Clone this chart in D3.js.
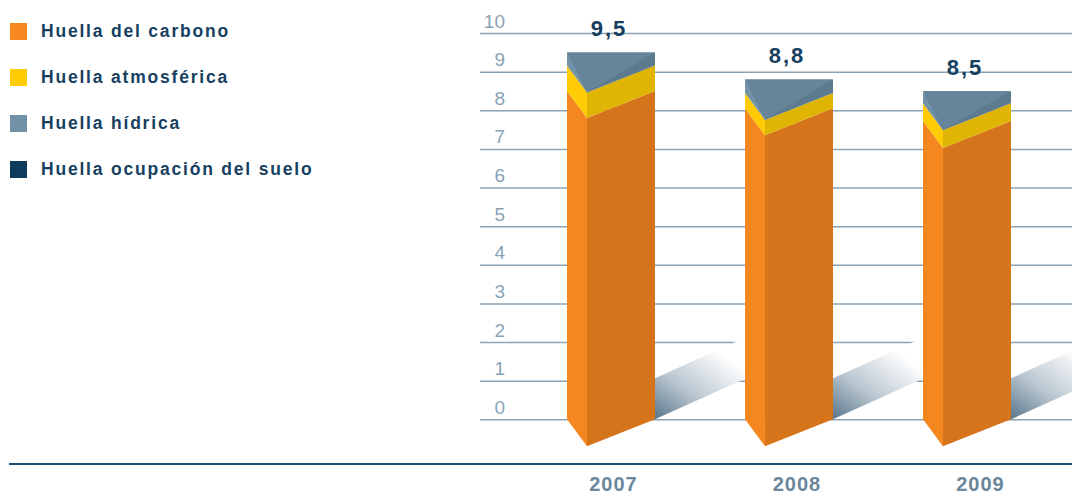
<!doctype html>
<html>
<head>
<meta charset="utf-8">
<script src="https://d3js.org/d3.v7.min.js"></script>
<style>
  body { margin: 0; background: #fff; }
  svg { display: block; font-family: "Liberation Sans", Arial, sans-serif; }
</style>
</head>
<body>
<svg width="1072" height="495"></svg>
<script>
// data
var years = ["2007", "2008", "2009"];
var carbono = [8.5, 8.05, 7.72];
var atmosferica = [0.66, 0.4, 0.46];
var hidrica = [0.34, 0.35, 0.32];
var suelo = [0, 0, 0];
var seriesNames = ["Huella del carbono", "Huella atmosférica", "Huella hídrica", "Huella ocupación del suelo"];
var yTicks = [0, 1, 2, 3, 4, 5, 6, 7, 8, 9, 10];

// colours: legend, side face, front face, top face
var legendColors = ["#f7881f", "#ffcc00", "#7191a7", "#0e3a5c"];
var sideColors = ["#f4871f", "#ffcb05", "#7292a8", "#17456a"];
var frontColors = ["#d6741c", "#dfb402", "#5d7b8f", "#0e3a5c"];
var topColors = ["#e27d1e", "#ecc000", "#66849a", "#123f62"];

var keys = ["carbono", "atmosferica", "hidrica", "suelo"];
var table = years.map(function (yr, i) {
  return { year: yr, carbono: carbono[i], atmosferica: atmosferica[i], hidrica: hidrica[i], suelo: suelo[i] };
});
var stacked = d3.stack().keys(keys)(table);

var svg = d3.select("svg");

var y = d3.scaleLinear().domain([0, 10]).range([419.3, 33]);
var x = d3.scaleBand().domain(years).range([567, 1011]).paddingInner(0.5056).paddingOuter(0);
var xLabel = d3.scalePoint().domain(years).range([613, 980]);
var bw = x.bandwidth();
var side = bw * 0.227;
var drop = 27;   // vertical skew of the front corner
var slope = 0.45;

var fmt = d3.formatLocale({ decimal: ",", thousands: ".", grouping: [3], currency: ["", "€"] }).format(".1f");

// grid + y labels
var gy = svg.append("g")
  .attr("transform", "translate(1072,0)")
  .call(d3.axisLeft(y).tickValues(yTicks).tickSize(592).tickFormat(d3.format("d")));
gy.select(".domain").remove();
gy.selectAll(".tick line").attr("stroke", "#8aa2b3").attr("stroke-width", 1.5);
gy.selectAll(".tick text")
  .attr("x", -567).attr("dy", -6)
  .attr("text-anchor", "end")
  .attr("fill", "#8aa3b4")
  .style("font-size", "19px");

// shadows
var defs = svg.append("defs");
years.forEach(function (yr, i) {
  var xR = x(yr) + bw;
  var xEnd = i < years.length - 1 ? x(years[i + 1]) : 1090;
  var y0 = y(0);
  var grad = defs.append("linearGradient")
    .attr("id", "sh" + i)
    .attr("gradientUnits", "userSpaceOnUse")
    .attr("x1", xR).attr("y1", y0)
    .attr("x2", xR + 55).attr("y2", y0 - 75);
  grad.append("stop").attr("offset", 0).attr("stop-color", "#5a768b");
  grad.append("stop").attr("offset", 0.45).attr("stop-color", "#b9c6d0");
  grad.append("stop").attr("offset", 1).attr("stop-color", "#ffffff");
  var pts = [
    [xR, y0],
    [xEnd, y0 - slope * (xEnd - xR)],
    [xEnd, y0 - slope * (xEnd - xR) - 41],
    [xR, y0 - 41]
  ];
  svg.append("polygon")
    .attr("points", pts.map(function (p) { return p.join(","); }).join(" "))
    .attr("fill", "url(#sh" + i + ")");
});

// bars
var bars = svg.append("g");
stacked.forEach(function (layer, k) {
  layer.forEach(function (d, i) {
    if (d[1] - d[0] <= 0) return;
    var xL = x(years[i]), xM = xL + side, xR = xL + bw;
    var t = y(d[1]), b = y(d[0]);
    bars.append("polygon")
      .attr("points", [[xL, t], [xM, t + drop], [xM, b + drop], [xL, b]].join(" "))
      .attr("fill", sideColors[k]);
    bars.append("polygon")
      .attr("points", [[xM, t + drop], [xR, t], [xR, b], [xM, b + drop]].join(" "))
      .attr("fill", frontColors[k]);
  });
});

// top faces, coloured by the highest non-empty layer
years.forEach(function (yr, i) {
  var k = keys.length - 1;
  while (k > 0 && stacked[k][i][1] - stacked[k][i][0] <= 0) k--;
  var xL = x(yr), xM = xL + side, xR = xL + bw;
  var t = y(stacked[k][i][1]), b = y(stacked[k][i][0]);
  bars.append("polygon")
    .attr("points", [[xL, t], [xR, t], [xM, b + drop]].join(" "))
    .attr("fill", topColors[k]);
});

// totals
svg.append("g").selectAll("text")
  .data(table)
  .enter().append("text")
  .attr("x", function (d) { return x(d.year) + bw / 2 - 2; })
  .attr("y", function (d) { return y(d3.sum(keys, function (k) { return d[k]; })) - 16; })
  .attr("text-anchor", "middle")
  .attr("fill", "#173f5f")
  .style("font-size", "22px")
  .style("font-weight", "bold")
  .style("letter-spacing", "2px")
  .text(function (d) { return fmt(d3.sum(keys, function (k) { return d[k]; })); });

// baseline and years
svg.append("line")
  .attr("x1", 9).attr("x2", 1072)
  .attr("y1", 464).attr("y2", 464)
  .attr("stroke", "#1d4d70").attr("stroke-width", 2);

var gx = svg.append("g")
  .attr("transform", "translate(0,464)")
  .call(d3.axisBottom(xLabel).tickSize(0).tickPadding(10));
gx.select(".domain").remove();
gx.selectAll(".tick text")
  .attr("dy", 0).attr("y", 27)
  .attr("fill", "#6c879b")
  .style("font-size", "20px")
  .style("font-weight", "bold")
  .style("letter-spacing", "1px");

// legend
var leg = svg.append("g").selectAll("g")
  .data(seriesNames)
  .enter().append("g")
  .attr("transform", function (d, i) { return "translate(10," + (23 + i * 46) + ")"; });
leg.append("rect")
  .attr("width", 17).attr("height", 17)
  .attr("fill", function (d, i) { return legendColors[i]; });
leg.append("text")
  .attr("x", 31).attr("y", 14)
  .attr("fill", "#173f5f")
  .style("font-size", "17.5px")
  .style("font-weight", "bold")
  .style("letter-spacing", "1.8px")
  .text(function (d) { return d; });
</script>
</body>
</html>
